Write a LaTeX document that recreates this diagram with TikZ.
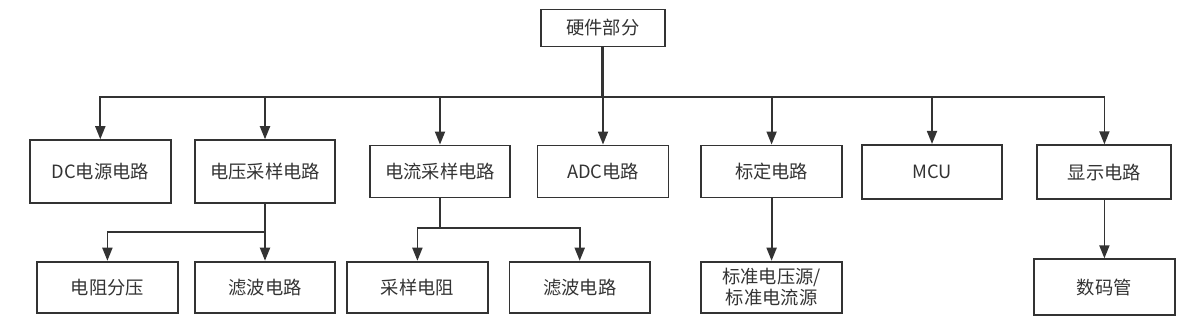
\documentclass[tikz,border=0pt]{standalone}
\usepackage{fontspec}
\setmainfont{Noto Sans CJK SC}
\usetikzlibrary{positioning, arrows.meta}
\definecolor{lnk}{HTML}{333333}

\begin{document}
\begin{tikzpicture}[x=1pt, y=-1pt, line width=1.8pt,
    blk/.style={draw=lnk, line width=1.9pt, text=lnk, align=center,
      font=\fontsize{18.3}{21.5}\selectfont, inner sep=0pt,
      minimum width=140.5pt, minimum height=52pt},
    arr/.style={draw=lnk, -{Triangle[length=13pt, width=10pt]}}]
    \useasboundingbox (0,0) rectangle (1190,328);
    % top
    \node[blk, minimum width=124pt, minimum height=37pt] (hw) at (602.7,28) {硬件部分};
    % first row
    \node[blk, minimum height=63pt] (dc) at (100.3,171.7) {DC电源电路};
    \node[blk, minimum height=63pt] (vs) at (265,171.7) {电压采样电路};
    \node[blk] (cs) at (440,171.5) {电流采样电路};
    \node[blk, minimum width=131pt] (adc) at (603,171.5) {ADC电路};
    \node[blk] (cal) at (771.6,171.5) {标定电路};
    \node[blk, minimum height=54pt] (mcu) at (932,171.9) {MCU};
    \node[blk, minimum width=134pt, minimum height=54pt] (disp) at (1104.4,172.3) {显示电路};
    % second row
    \node[blk, minimum height=51pt] (vr) at (107.4,287.2) {电阻分压};
    \node[blk, minimum height=51pt] (vf) at (265,287.2) {滤波电路};
    \node[blk, minimum height=51pt] (sr) at (417.4,287.2) {采样电阻};
    \node[blk, minimum height=51pt] (cf) at (579.7,287.2) {滤波电路};
    \node[blk, minimum height=51pt] (std) at (771.6,287.2) {标准电压源/\\标准电流源};
    \node[blk, minimum height=56pt] (led) at (1104.4,287.3) {数码管};
    % connectors
    \coordinate (bus) at (0,96.7);
    \draw[lnk, line width=2.6pt] (hw.south) -- (hw.south |- bus);
    \foreach \n in {dc,vs,cs,adc,cal,mcu,disp}{
      \draw[arr] (hw.south) |- (bus -| \n.north) -- (\n.north);
    }
    \coordinate (vsj) at (265,232.3);
    \coordinate (csj) at (440,227.7);
    \draw[arr] (vs.south) -- (vsj) -| (vr.north);
    \draw[arr] (vs.south) -- (vf.north);
    \draw[arr] (cs.south) -- (csj) -| (sr.north);
    \draw[arr] (cs.south) -- (csj) -| (cf.north);
    \draw[arr] (cal.south) -- (std.north);
    \draw[arr] (disp.south) -- (led.north);
  \end{tikzpicture}
\end{document}
